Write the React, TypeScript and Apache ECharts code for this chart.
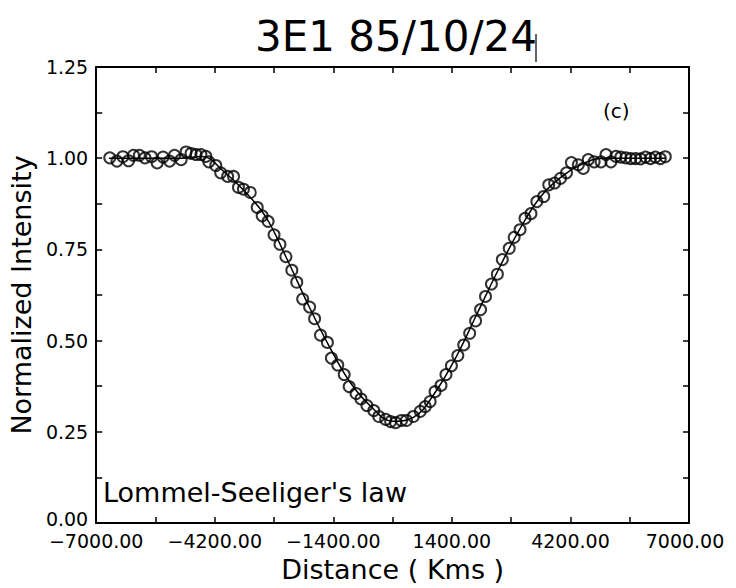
import React, { useEffect, useRef } from "react";
import * as echarts from "echarts";

// Observed points: distance (km) and normalized intensity
const obsDistance = [
  -6680, -6510, -6370, -6237, -6120, -5980, -5849, -5693, -5560, -5421,
  -5267, -5150, -4994, -4877, -4760, -4643, -4527, -4410, -4340, -4176,
  -4060, -3896, -3757, -3640, -3523, -3360, -3197, -3080, -2940, -2800,
  -2660, -2520, -2380, -2264, -2124, -1960, -1843, -1703, -1540, -1446,
  -1295, -1143, -1026, -863, -747, -607, -444, -327, -164, -47,
  70, 210, 327, 490, 654, 770, 886, 1003, 1143, 1260,
  1389, 1540, 1680, 1820, 1960, 2077, 2194, 2334, 2474, 2591,
  2754, 2870, 3010, 3127, 3267, 3407, 3570, 3687, 3827, 3967,
  4107, 4223, 4386, 4503, 4620, 4760, 4923, 5040, 5157, 5273,
  5390, 5507, 5624, 5740, 5857, 5974, 6090, 6206, 6323, 6440,
];
const obsIntensity = [
  1.001, 0.992, 1.004, 0.993, 1.008, 1.008, 1.001, 1.004, 0.987, 1.003,
  0.992, 1.008, 0.996, 1.017, 1.013, 1.01, 1.01, 1.005, 0.99, 0.98,
  0.96, 0.95, 0.95, 0.92, 0.915, 0.906, 0.865, 0.842, 0.827, 0.79,
  0.764, 0.73, 0.693, 0.66, 0.614, 0.592, 0.56, 0.515, 0.495, 0.452,
  0.433, 0.407, 0.374, 0.355, 0.34, 0.322, 0.308, 0.292, 0.284, 0.278,
  0.275, 0.281, 0.281, 0.292, 0.306, 0.319, 0.333, 0.36, 0.377, 0.407,
  0.431, 0.459, 0.488, 0.52, 0.554, 0.585, 0.621, 0.655, 0.682, 0.722,
  0.753, 0.783, 0.804, 0.835, 0.848, 0.881, 0.895, 0.927, 0.932, 0.945,
  0.96, 0.988, 0.982, 0.972, 0.996, 0.99, 0.99, 1.01, 0.99, 1.005,
  1.003, 1.001, 0.999, 0.999, 0.998, 1.003, 0.999, 1.003, 0.999, 1.004,
];

// Model (Lommel-Seeliger's law) curve
const fitDistance = [
  -6700, -5000, -4500, -4000, -3500, -3000, -2500, -2000, -1500, -1000,
  -500, 0, 500, 1000, 1500, 2000, 2500, 3000, 3500, 4000, 4500, 5000, 6450,
];
const fitIntensity = [
  1.0, 1.0, 1.005, 0.965, 0.91, 0.84, 0.725, 0.6, 0.485, 0.385,
  0.318, 0.279, 0.29, 0.357, 0.455, 0.575, 0.695, 0.805, 0.895, 0.95, 0.985, 1.0, 1.0,
];

const TITLE = "3E1 85/10/24";
const X_NAME = "Distance ( Kms )";
const Y_NAME = "Normalized Intensity";
const PANEL = "(c)";
const LAW = "Lommel-Seeliger's law";

const FONT = "DejaVu Sans";

const fmt = (v: number) => (v < 0 ? "\u2212" + Math.abs(v).toFixed(2) : v.toFixed(2));

export default function App() {
  const ref = useRef<HTMLDivElement>(null);
  useEffect(() => {
    if (!ref.current) return;
    const chart = echarts.init(ref.current, null, { renderer: "svg" });
    const black = "#000";
    const tickCommon = {
      axisLine: { show: true, onZero: false, lineStyle: { color: black, width: 2 } },
      axisTick: { show: true, inside: true, length: 6, lineStyle: { color: black, width: 1.5 } },
      minorTick: { show: true, splitNumber: 2, length: 6, lineStyle: { color: black, width: 1.5 } },
      splitLine: { show: false },
      minorSplitLine: { show: false },
    };
    const labelStyle = { color: black, fontFamily: FONT, fontSize: 19 };
    chart.setOption({
      animation: false,
      backgroundColor: "#fff",
      title: {
        text: TITLE,
        left: 391,
        top: 10,
        textAlign: "center",
        textStyle: { color: black, fontFamily: FONT, fontSize: 42, fontWeight: "normal" },
      },
      grid: { left: 89, right: 47, top: 67, bottom: 63, containLabel: false },
      xAxis: [
        {
          type: "value",
          position: "bottom",
          min: -7000,
          max: 7000,
          interval: 2800,
          ...tickCommon,
          axisLabel: {
            ...labelStyle,
            margin: 8,
            formatter: (v: number) => (v === 7000 ? "{r|" + fmt(v) + "}" : fmt(v)),
            rich: { r: { ...labelStyle, padding: [0, 8, 0, 0] } },
          },
          name: X_NAME,
          nameLocation: "middle",
          nameGap: 33,
          nameTextStyle: { color: black, fontFamily: FONT, fontSize: 27 },
        },
        {
          type: "value",
          position: "top",
          min: -7000,
          max: 7000,
          interval: 2800,
          ...tickCommon,
          axisLabel: { show: false },
        },
      ],
      yAxis: [
        {
          type: "value",
          position: "left",
          min: 0,
          max: 1.25,
          interval: 0.25,
          ...tickCommon,
          axisLabel: {
            ...labelStyle,
            margin: 8,
            formatter: (v: number) => (v === 0 ? "{z|" + fmt(v) + "}" : fmt(v)),
            rich: { z: { ...labelStyle, padding: [0, 0, 8, 0] } },
          },
          name: Y_NAME,
          nameLocation: "middle",
          nameGap: 55,
          nameTextStyle: { color: black, fontFamily: FONT, fontSize: 27 },
        },
        {
          type: "value",
          position: "right",
          min: 0,
          max: 1.25,
          interval: 0.25,
          ...tickCommon,
          axisLabel: { show: false },
        },
      ],
      series: [
        {
          type: "line",
          data: fitDistance.map((d, i) => [d, fitIntensity[i]]),
          smooth: 0.4,
          showSymbol: false,
          lineStyle: { color: black, width: 1.5 },
          z: 1,
        },
        {
          type: "scatter",
          data: obsDistance.map((d, i) => [d, obsIntensity[i]]),
          symbol: "circle",
          symbolSize: 11,
          itemStyle: { color: "rgba(0,0,0,0)", borderColor: black, borderWidth: 2 },
          z: 2,
        },
      ],
      graphic: [
        {
          type: "text",
          left: 603,
          top: 101,
          style: { text: PANEL, fill: black, fontFamily: FONT, fontSize: 20 },
        },
        {
          type: "text",
          left: 103,
          top: 479,
          style: { text: LAW, fill: black, fontFamily: FONT, fontSize: 27 },
        },
        {
          type: "line",
          shape: { x1: 536, y1: 34, x2: 536, y2: 62 },
          style: { stroke: black, lineWidth: 1.2 },
        },
      ],
    });
    return () => chart.dispose();
  }, []);
  return (
    <div
      ref={ref}
      style={{ position: "absolute", left: 0, top: 0, width: 736, height: 588 }}
    />
  );
}
